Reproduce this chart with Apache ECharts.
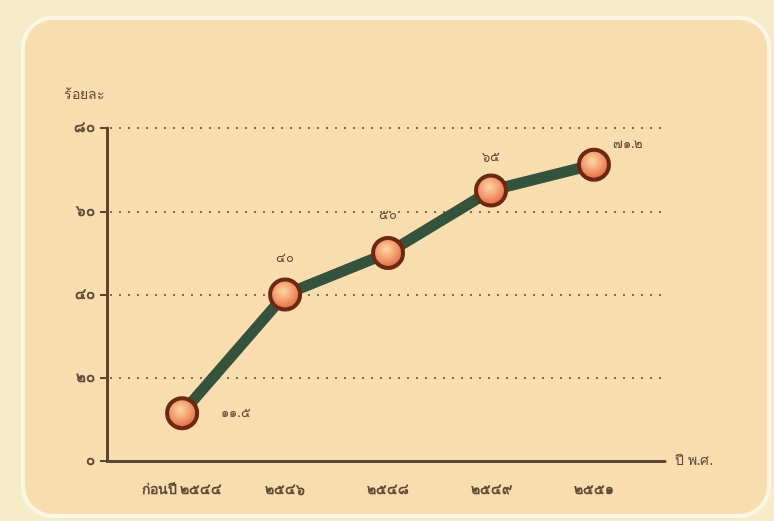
<!DOCTYPE html>
<html>
<head>
<meta charset="utf-8">
<script src="https://cdn.jsdelivr.net/npm/echarts@6/dist/echarts.min.js"></script>
<style>
  html, body { margin: 0; padding: 0; background: #f4ecc8; }
  #chart { width: 774px; height: 521px; }
</style>
</head>
<body>
<div id="chart"></div>
<script>
var years = ['ก่อนปี ๒๕๔๔', '๒๕๔๖', '๒๕๔๘', '๒๕๔๙', '๒๕๕๑'];
var percent = [11.5, 40, 50, 65, 71.2];
var yTicks = [0, 20, 40, 60, 80];

var thaiDigits = '๐๑๒๓๔๕๖๗๘๙';
function toThai(n) {
    return String(n).replace(/[0-9]/g, function (d) { return thaiDigits[+d]; });
}

var chart = echarts.init(document.getElementById('chart'));

var labelPos = [
    { position: 'right', distance: 22 },
    { position: 'top', distance: 13 },
    { position: 'top', distance: 14 },
    { position: 'top', distance: 10 },
    { position: [36, -10] }
];

var seriesData = [];
for (var i = 0; i < percent.length; i++) {
    seriesData.push({ value: [i, percent[i]], label: labelPos[i] });
}

var textColor = '#5f4a36';
var font = '"Noto Sans", "DejaVu Sans", sans-serif';

chart.setOption({
    backgroundColor: '#f4ecc8',
    graphic: [{
        type: 'rect',
        shape: { x: 23, y: 18, width: 746, height: 498, r: 30 },
        style: { fill: '#f8ddaf', stroke: '#fdf6e4', lineWidth: 4 },
        z: -10
    }],
    grid: { left: 107, right: 109, top: 128, bottom: 60 },
    xAxis: {
        type: 'value',
        min: -0.73,
        max: 4.69,
        name: 'ปี พ.ศ.',
        nameGap: 10,
        nameTextStyle: { color: textColor, fontSize: 14, fontFamily: font, verticalAlign: 'middle' },
        axisLine: { lineStyle: { color: '#5b4430', width: 3 } },
        axisTick: { show: false },
        splitLine: { show: false },
        axisLabel: {
            customValues: [0, 1, 2, 3, 4],
            formatter: function (v) { return years[Math.round(v)]; },
            color: textColor,
            fontSize: 14,
            fontWeight: 'bold',
            fontFamily: font,
            margin: 22
        }
    },
    yAxis: {
        type: 'value',
        min: 0,
        max: 80,
        interval: 20,
        name: 'ร้อยละ',
        nameGap: 26,
        nameTextStyle: { color: textColor, fontSize: 14, fontFamily: font, align: 'right', padding: [0, 2, 0, 0] },
        axisLine: { show: true, onZero: false, lineStyle: { color: '#5b4430', width: 3 } },
        axisTick: { show: true, length: 7, lineStyle: { color: '#5b4430', width: 2 } },
        axisLabel: {
            formatter: function (v) { return toThai(v); },
            color: textColor,
            fontSize: 15,
            fontWeight: 'bold',
            fontFamily: font,
            margin: 12
        },
        splitLine: {
            show: true,
            lineStyle: { color: '#8c6a46', width: 2, type: [2, 7], dashOffset: -12 }
        }
    },
    series: [{
        type: 'line',
        data: seriesData,
        symbol: 'circle',
        symbolSize: 30,
        lineStyle: { color: '#35523d', width: 11 },
        itemStyle: {
            color: {
                type: 'radial', x: 0.45, y: 0.4, r: 0.6,
                colorStops: [
                    { offset: 0, color: '#fcd9a4' },
                    { offset: 0.55, color: '#f29468' },
                    { offset: 1, color: '#d25e3a' }
                ]
            },
            borderColor: '#6c2810',
            borderWidth: 4
        },
        label: {
            show: true,
            formatter: function (p) { return toThai(p.value[1]); },
            color: textColor,
            fontSize: 13,
            fontFamily: font
        },
        z: 5
    }]
});
</script>
</body>
</html>
